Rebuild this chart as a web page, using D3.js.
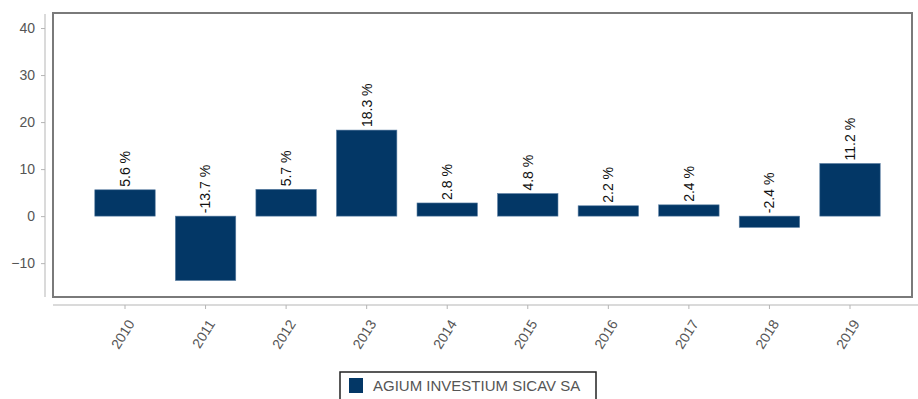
<!DOCTYPE html>
<html>
<head>
<meta charset="utf-8">
<script src="https://cdn.jsdelivr.net/npm/d3@7"></script>
<style>
  body { margin: 0; background: #fff; }
  text { font-family: "Liberation Sans", Arial, sans-serif; }
</style>
</head>
<body>
<svg width="918" height="399"></svg>
<script>
const years = ["2010", "2011", "2012", "2013", "2014", "2015", "2016", "2017", "2018", "2019"];
const returns = [5.6, -13.7, 5.7, 18.3, 2.8, 4.8, 2.2, 2.4, -2.4, 11.2];
const yTicks = [-10, 0, 10, 20, 30, 40];
const seriesName = "AGIUM INVESTIUM SICAV SA";

const svg = d3.select("svg");
const box = {left: 53, right: 912, top: 13, bottom: 297};
const barColor = "#033766";

const step = (850 - 125) / 9;
const x = d3.scaleBand()
  .domain(years)
  .range([125 - step / 2, 850 + step / 2])
  .paddingInner(0.25)
  .paddingOuter(0.125);

const y = d3.scaleLinear()
  .domain([-17.2, 43.2])
  .range([box.bottom, box.top]);

// plot frame
svg.append("rect")
  .attr("x", box.left)
  .attr("y", box.top)
  .attr("width", box.right - box.left)
  .attr("height", box.bottom - box.top)
  .attr("fill", "none")
  .attr("stroke", "#7a7a7a")
  .attr("stroke-width", 2);

// y axis, detached to the left
const yAxis = svg.append("g")
  .attr("transform", "translate(45,0)")
  .call(d3.axisLeft(y).tickValues(yTicks).tickSize(4).tickPadding(6).tickSizeOuter(0));
yAxis.select(".domain").attr("stroke", "#b5b5b5").attr("d", `M0,${box.top + 1}V${box.bottom}`);
yAxis.selectAll(".tick line").attr("stroke", "#b5b5b5");
yAxis.selectAll(".tick text").attr("fill", "#555").style("font-size", "14px");

// x axis, detached below
const xAxis = svg.append("g")
  .attr("transform", "translate(0,305)")
  .call(d3.axisBottom(x).tickSize(4).tickSizeOuter(0));
xAxis.select(".domain").attr("stroke", "#b5b5b5").attr("d", `M${box.left},0H918`);
xAxis.selectAll(".tick line").attr("stroke", "#b5b5b5");
xAxis.selectAll(".tick text")
  .attr("fill", "#555")
  .style("font-size", "14px")
  .attr("text-anchor", "end")
  .attr("dy", "0.35em")
  .attr("transform", "translate(6,16) rotate(-58)")
  .attr("y", 0)
  .attr("x", 0);

// bars
svg.selectAll("rect.bar")
  .data(returns)
  .enter()
  .append("rect")
  .attr("class", "bar")
  .attr("x", (d, i) => x(years[i]))
  .attr("width", x.bandwidth())
  .attr("y", d => y(Math.max(0, d)))
  .attr("height", d => Math.abs(y(d) - y(0)))
  .attr("fill", barColor)
  .attr("stroke", "#5b7fa3")
  .attr("stroke-width", 0.6);

// value labels
svg.selectAll("text.val")
  .data(returns)
  .enter()
  .append("text")
  .attr("class", "val")
  .attr("transform", (d, i) => {
    const cx = x(years[i]) + x.bandwidth() / 2;
    const base = y(Math.max(0, d)) - 3;
    return `translate(${cx},${base}) rotate(-90)`;
  })
  .attr("dy", "0.35em")
  .attr("fill", "#111")
  .style("font-size", "14px")
  .text(d => d.toFixed(1) + " %");

// legend
const legend = svg.append("g").attr("transform", "translate(340,372)");
legend.append("rect")
  .attr("width", 256).attr("height", 30)
  .attr("fill", "#fff").attr("stroke", "#222").attr("stroke-width", 1.5);
legend.append("rect")
  .attr("x", 9).attr("y", 6).attr("width", 14).attr("height", 15)
  .attr("fill", barColor);
legend.append("text")
  .attr("x", 33).attr("y", 19)
  .attr("fill", "#555")
  .style("font-size", "15px")
  .text(seriesName);
</script>
</body>
</html>
